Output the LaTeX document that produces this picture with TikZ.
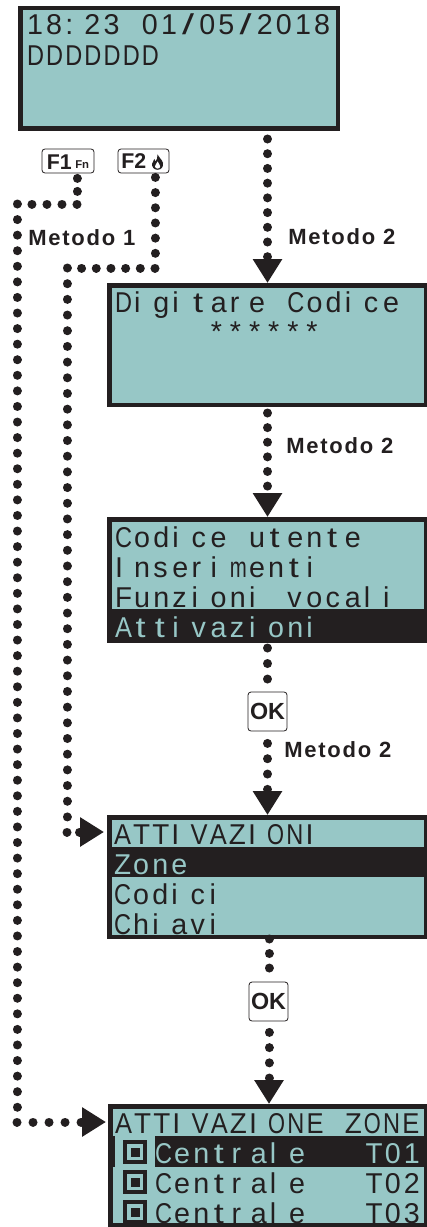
\documentclass[tikz,border=0pt]{standalone}
\usepackage{fontspec}
\usepackage{graphicx}
\setmainfont{Liberation Sans}
\newfontfamily\lcdface{Liberation Sans}
\newfontfamily\methodface[LetterSpace=8]{Liberation Sans}
\usetikzlibrary{arrows.meta}
\definecolor{lcdbg}{HTML}{97C7C6}
\definecolor{ink}{HTML}{231F20}
\newlength\px \setlength\px{0.75pt}
\def\lcdslash{/}
\def\lcdtee{t}
\makeatletter
\newcommand\lcdcell[1]{%
  \sbox0{#1}%
  \ifx\lcdx\lcdslash
    \makebox[19.15\px][l]{\hspace*{2\px}\resizebox{12\px}{\height}{#1}}%
  \else\ifx\lcdx\lcdtee
    \makebox[19.15\px][l]{\hspace*{1.5\px}\resizebox{10\px}{\height}{#1}}%
  \else\ifdim\wd0>17\px
    \makebox[19.15\px][l]{\resizebox{17\px}{\height}{#1}}%
  \else
    \makebox[19.15\px][l]{#1}%
  \fi\fi\fi}
\newcommand\lcdtext[1]{\@tfor\lcdx:=#1\do{\lcdcell{\lcdx}}}
\makeatother
\tikzset{
  x=0.75pt,y=-0.75pt,
  screen/.style={rectangle,fill=lcdbg,draw=ink,line width=4.5\px,inner sep=0pt,minimum width=317\px,minimum height=#1\px},
  lcdline/.style={anchor=base west,inner sep=0pt,outer sep=0pt,text=ink,font=\lcdface\fontsize{21.5pt}{21.5pt}\selectfont},
  lcdinv/.style={lcdline,text=lcdbg},
  dots/.style={draw=ink,line width=9\px,line cap=round,/utils/exec={\pgfmathsetmacro\dotgap{#1*0.75}},dash pattern=on 0.01pt off \dotgap pt},
  flowhead/.style={-{Triangle[length=18pt,width=21pt]}},
  method/.style={inner sep=0pt,text=ink,anchor=base west,font=\methodface\bfseries\fontsize{16.5pt}{16.5pt}\selectfont},
  keybox/.style={rectangle,draw=ink,fill=white,line width=0.6pt,rounded corners=3\px,inner sep=0pt},
  keytext/.style={anchor=base west,inner sep=0pt,text=ink,font=\bfseries\fontsize{16pt}{16pt}\selectfont},
  keysmall/.style={anchor=base west,inner sep=0pt,text=ink,font=\bfseries\fontsize{8.5pt}{8.5pt}\selectfont},
  oktext/.style={keybox,minimum width=39\px,minimum height=39\px,text=ink,font=\bfseries\fontsize{17.5pt}{17.5pt}\selectfont},
  iconbox/.style={rectangle,draw=ink,fill=lcdbg,line width=4\px,minimum size=20\px,inner sep=0pt},
  iconcore/.style={rectangle,fill=ink,minimum size=9\px,inner sep=0pt},
}
\begin{document}
\begin{tikzpicture}
\useasboundingbox (0,0) rectangle (427,1227);
\clip (0,0) rectangle (427,1227);
% screens
\node[screen=120.5,minimum width=317.5\px] (s1) at (179,68.5) {};
\node[screen=119.5] (s2) at (267.75,345) {};
\node[screen=121.5] (s3) at (267.75,580) {};
\node[screen=119.5] (s4) at (267.75,877) {};
\node[screen=118.5,minimum width=316\px] (s5) at (268.25,1165.5) {};
% inverted bands
\fill[ink] (109,609) rectangle (427,643);
\fill[ink] (109,847) rectangle (427,877);
\fill[ink] (155,1136) rectangle (427,1167);
\fill[ink] (110,1136) rectangle (115,1167);
% screen texts
\node[lcdline] (t1a) at (27,35) {\lcdtext{18:23~01/05/2018}};
\node[lcdline] (t1b) at (27,66) {\lcdtext{DDDDDDD}};
\node[lcdline] (t2a) at (115,312) {\lcdtext{Digitare~Codice}};
\node[lcdline] (t2b) at (115,341.5) {\lcdtext{~~~~~******}};
\node[lcdline] (t3a) at (115,547) {\lcdtext{Codice~utente}};
\node[lcdline] (t3b) at (115,577) {\lcdtext{Inserimenti}};
\node[lcdline] (t3c) at (115,607) {\lcdtext{Funzioni~vocali}};
\node[lcdinv] (t3d) at (115,637) {\lcdtext{Attivazioni}};
\node[lcdline] (t4a) at (114,844) {\lcdtext{ATTIVAZIONI}};
\node[lcdinv] (t4b) at (114,874) {\lcdtext{Zone}};
\node[lcdline] (t4c) at (114,904) {\lcdtext{Codici}};
\node[lcdline] (t4d) at (114,934) {\lcdtext{Chiavi}};
\node[lcdline] (t5a) at (115,1133) {\lcdtext{ATTIVAZIONE~ZONE}};
\node[lcdinv] (t5b) at (155,1163) {\lcdtext{Centrale~~~T01}};
\node[lcdline] (t5c) at (155,1193) {\lcdtext{Centrale~~~T02}};
\node[lcdline] (t5d) at (155,1223) {\lcdtext{Centrale~~~T03}};
% zone icons
\foreach \n/\y in {a/1152,b/1182,c/1212}{
  \node[iconbox] (ic\n) at (135,\y) {};
  \node[iconcore] (co\n) at (ic\n.center) {};
}
% keys
\node[keybox,minimum width=52\px,minimum height=24\px] (f1) at (68,161) {};
\node[keytext] (f1t) at (46.5,169.5) {F1};
\node[keysmall] (f1n) at (75,169) {Fn};
\node[keybox,minimum width=51\px,minimum height=24\px] (f2) at (143.5,161) {};
\node[keytext] (f2t) at (121,169) {F2};
% flame on key F2
\fill[ink] (157.5,154.5) .. controls (158.5,157.5) and (162,159) .. (163,163) .. controls (163.8,167) and (161,169.8) .. (157.5,169.8) .. controls (154,169.8) and (151.5,167) .. (152.2,163.5) .. controls (152.6,161.5) and (153.6,160.5) .. (154.3,159) .. controls (154.8,160.2) and (155,161) .. (155.6,161.5) .. controls (156.5,159.5) and (158,157.5) .. (157.5,154.5) -- cycle;
\fill[white] (157.6,161.5) .. controls (158.2,163.5) and (160.2,164.5) .. (160.2,166.3) .. controls (160.2,167.8) and (159,168.6) .. (157.6,168.6) .. controls (156.2,168.6) and (155,167.8) .. (155,166.3) .. controls (155,164.5) and (157,163.5) .. (157.6,161.5) -- cycle;
\node[oktext] (ok1) at (267.5,711.5) {OK};
\node[oktext] (ok2) at (268.5,1001.5) {OK};
% method labels
\node[method] (m1) at (28,245) {Metodo 1};
\node[method] (m2) at (288,244) {Metodo 2};
\node[method] (m3) at (286,453) {Metodo 2};
\node[method] (m4) at (284,757) {Metodo 2};
% connector routing points
\coordinate (cola) at (267.5,0);
\coordinate (colb) at (269,0);
\coordinate (a1) at (77,204);
\coordinate (a2) at (17,204);
\coordinate (a3) at (17,1122);
\coordinate (b1) at (155,268);
\coordinate (b2) at (67,268);
\coordinate (b3) at (67,832);
% vertical flow
\draw[dots=14.7,flowhead,shorten <=8\px] (s1.south -| cola) -- (s2.north -| cola);
\draw[dots=14.6,flowhead,shorten <=6\px] (s2.south -| cola) -- (s3.north -| cola);
\draw[dots=15.5,shorten <=5\px] (s3.south -| cola) -- (ok1.north);
\draw[dots=15.3,flowhead,shorten <=12\px] (ok1.south) -- (s4.north -| cola);
\draw[dots=14.5,shorten <=0\px] (s4.south -| colb) -- (ok2.north -| colb);
\draw[dots=15.2,flowhead,shorten <=11\px] (ok2.south -| colb) -- (s5.north -| colb);
% method 1
\draw[dots=13,shorten <=5\px] (f1.south -| a1) -- (a1);
\draw[dots=15] (a1) -- (a2);
\draw[dots=15.56] (a2) -- (a3);
\draw[dots=16,flowhead,shorten >=2\px] (a3) -- (s5.west |- a3);
% second key route
\draw[dots=15.17,shorten <=4\px] (f2.south -| b1) -- (b1);
\draw[dots=14.67] (b1) -- (b2);
\draw[dots=15.67] (b2) -- (b3);
\draw[dots=12.5,flowhead,shorten >=3\px] (b3) -- (s4.west |- b3);
\end{tikzpicture}
\end{document}
